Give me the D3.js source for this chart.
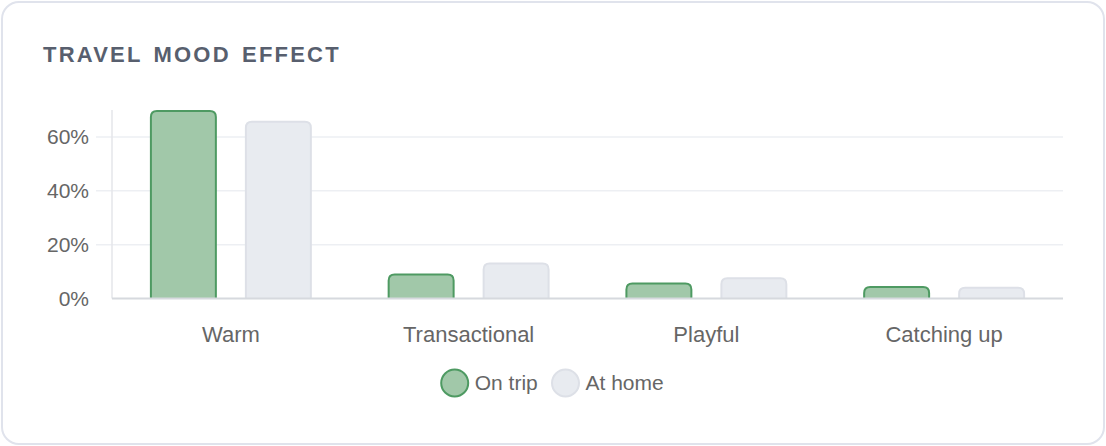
<!DOCTYPE html>
<html lang="en">
<head>
    <meta charset="UTF-8">
    <title>Travel Mood Effect</title>
    <style>
        body { margin: 0; padding: 0; background: #ffffff; font-family: "Liberation Sans", Arial, sans-serif; }
        .card {
            position: absolute;
            left: 1px; top: 1px;
            width: 1100px; height: 440px;
            border: 2px solid #e0e3ec;
            border-radius: 18px;
            background: #ffffff;
            overflow: hidden;
        }
        svg { position: absolute; left: 0; top: 0; }
    </style>
</head>
<body>
    <div class="card"></div>
    <svg id="chart" width="1106" height="446"></svg>
    <script src="https://d3js.org/d3.v7.min.js"></script>
    <script>
        // data
        const categories = ["Warm", "Transactional", "Playful", "Catching up"];
        const seriesNames = ["On trip", "At home"];
        const onTrip = [69.6, 8.9, 5.6, 4.3];
        const atHome = [65.6, 13.0, 7.5, 4.0];
        const yTicks = [0, 20, 40, 60];

        const FILLS = ["#a1c8a9", "#e8ebf0"];
        const STROKES = ["#4e9a62", "#dde0e7"];
        const TEXT_COLOR = "#666666";

        const svg = d3.select("#chart");

        svg.append("text")
            .attr("x", 43)
            .attr("y", 62)
            .attr("font-size", "22px")
            .attr("font-weight", "bold")
            .attr("letter-spacing", "2.2px")
            .attr("word-spacing", "3px")
            .attr("fill", "#585f6e")
            .text("TRAVEL MOOD EFFECT");

        // plot box
        const plotLeft = 112, plotRight = 1063, plotTop = 110, plotBottom = 298.5;

        const y = d3.scaleLinear().domain([0, 70]).range([plotBottom, plotTop]);
        const x0 = d3.scaleBand().domain(categories).range([plotLeft, plotRight]);
        const groupPad = 38.9;
        const x1 = d3.scaleBand().domain(seriesNames)
            .range([groupPad, x0.bandwidth() - groupPad])
            .paddingInner(0.316);

        // gridlines
        svg.append("g").selectAll("line")
            .data(yTicks.filter(d => d > 0))
            .enter().append("line")
            .attr("x1", 96).attr("x2", plotRight)
            .attr("y1", d => y(d)).attr("y2", d => y(d))
            .attr("stroke", "#edeff3").attr("stroke-width", 1.5);

        // y axis line
        svg.append("line")
            .attr("x1", plotLeft).attr("x2", plotLeft)
            .attr("y1", plotTop).attr("y2", plotBottom)
            .attr("stroke", "#e4e6ea").attr("stroke-width", 1.5);

        // tick labels
        const yAxis = svg.append("g")
            .attr("transform", `translate(${plotLeft},0)`)
            .call(d3.axisLeft(y).tickValues(yTicks).tickFormat(d => d + "%").tickSize(0).tickPadding(23));
        yAxis.select(".domain").remove();
        yAxis.selectAll("text")
            .attr("font-family", "'Liberation Sans', Arial, sans-serif")
            .attr("font-size", "21px")
            .attr("fill", TEXT_COLOR);

        // bars
        const data = categories.map((c, i) => ({ cat: c, values: [onTrip[i], atHome[i]] }));

        function topRounded(x, yTop, w, h, r) {
            r = Math.min(r, h, w / 2);
            return `M${x},${yTop + h}V${yTop + r}Q${x},${yTop} ${x + r},${yTop}H${x + w - r}Q${x + w},${yTop} ${x + w},${yTop + r}V${yTop + h}`;
        }

        const groups = svg.append("g").selectAll("g")
            .data(data)
            .enter().append("g")
            .attr("transform", d => `translate(${x0(d.cat)},0)`);

        groups.selectAll("path")
            .data(d => d.values.map((v, j) => ({ series: seriesNames[j], value: v, idx: j })))
            .enter().append("path")
            .attr("d", d => topRounded(x1(d.series), y(d.value), x1.bandwidth(), plotBottom - y(d.value), 6))
            .attr("fill", d => FILLS[d.idx])
            .attr("stroke", d => STROKES[d.idx])
            .attr("stroke-width", 2);

        // x axis (zero line)
        svg.append("line")
            .attr("x1", plotLeft).attr("x2", plotRight)
            .attr("y1", plotBottom).attr("y2", plotBottom)
            .attr("stroke", "#d6d9de").attr("stroke-width", 2);

        const xAxis = svg.append("g")
            .attr("transform", `translate(0,${plotBottom})`)
            .call(d3.axisBottom(x0).tickSize(0).tickPadding(27.5));
        xAxis.select(".domain").remove();
        xAxis.selectAll("text")
            .attr("font-family", "'Liberation Sans', Arial, sans-serif")
            .attr("font-size", "22px")
            .attr("fill", TEXT_COLOR);

        // legend
        const legendX = [454.7, 565.5];
        const legend = svg.append("g").selectAll("g")
            .data(seriesNames)
            .enter().append("g")
            .attr("transform", (d, i) => `translate(${legendX[i]},383)`);
        legend.append("circle")
            .attr("r", 13.5)
            .attr("fill", (d, i) => FILLS[i])
            .attr("stroke", (d, i) => STROKES[i])
            .attr("stroke-width", 2);
        legend.append("text")
            .attr("x", 20)
            .attr("dy", "0.35em")
            .attr("font-size", "21px")
            .attr("fill", TEXT_COLOR)
            .text(d => d);
    </script>
</body>
</html>
